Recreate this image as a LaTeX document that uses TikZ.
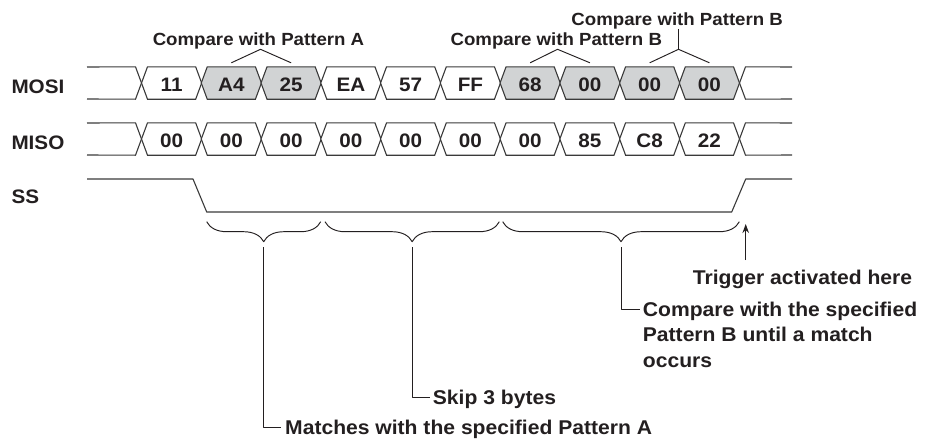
\documentclass[tikz,border=0pt]{standalone}
\usepackage{fontspec}
\setmainfont[FakeStretch=1.06]{Liberation Sans}
\usetikzlibrary{decorations.pathreplacing,arrows.meta,backgrounds}
\definecolor{ink}{HTML}{231F20}
\definecolor{wire}{HTML}{3A3A3A}
\definecolor{cellgray}{HTML}{D1D3D4}
\begin{document}
\begin{tikzpicture}[x=1pt,y=-1pt, line join=round,
  every node/.style={inner sep=0pt, text=ink},
  rowlabel/.style={anchor=base west, font=\bfseries\fontsize{19.5}{22}\selectfont},
  cell/.style={minimum width=59.76pt, minimum height=32pt, text height=17.5pt, text depth=0pt, font=\bfseries\fontsize{19.5}{22}\selectfont},
  toplabel/.style={anchor=base, font=\bfseries\fontsize{17.6}{21}\selectfont},
  note/.style={anchor=base west, text height=14pt, text depth=0pt, font=\bfseries\fontsize{19.9}{25.7}\selectfont},
  wireline/.style={draw=wire, line width=1.1pt},
  thinline/.style={draw=ink, line width=0.95pt},
  bracestyle/.style={draw=ink, line width=0.95pt, decorate, decoration={brace, mirror, amplitude=20pt}},
]
\useasboundingbox (0,0) rectangle (933,439);

% row labels
\node[rowlabel] (mosi) at (11.3,93.3) {MOSI};
\node[rowlabel] (miso) at (11.3,149.3) {MISO};
\node[rowlabel] (ss) at (11.3,203) {SS};

% MOSI cells
\foreach \t/\f [count=\i from 0] in {11/white,A4/cellgray,25/cellgray,EA/white,57/white,FF/white,68/cellgray,00/cellgray,00/cellgray,00/cellgray}{
  \node[cell] (mo\i) at ({171.58+59.76*\i},83) {\t};
  \begin{pgfonlayer}{background}
    \draw[wireline, fill=\f] (mo\i.west) -- ([xshift=6pt]mo\i.north west) -- ([xshift=-6pt]mo\i.north east) -- (mo\i.east) -- ([xshift=-6pt]mo\i.south east) -- ([xshift=6pt]mo\i.south west) -- cycle;
  \end{pgfonlayer}
}
% MISO cells
\foreach \t [count=\i from 0] in {00,00,00,00,00,00,00,85,C8,22}{
  \node[cell] (mi\i) at ({171.58+59.76*\i},139) {\t};
  \begin{pgfonlayer}{background}
    \draw[wireline, fill=white] (mi\i.west) -- ([xshift=6pt]mi\i.north west) -- ([xshift=-6pt]mi\i.north east) -- (mi\i.east) -- ([xshift=-6pt]mi\i.south east) -- ([xshift=6pt]mi\i.south west) -- cycle;
  \end{pgfonlayer}
}
% idle parts of the buses
\coordinate (moL1) at (87,67); \coordinate (moL2) at (87,99);
\coordinate (moR1) at (792,67); \coordinate (moR2) at (792,99);
\coordinate (miL1) at (87,123); \coordinate (miL2) at (87,155);
\coordinate (miR1) at (792,123); \coordinate (miR2) at (792,155);
\draw[wireline] (moL1) -- ([xshift=-6pt]mo0.north west) -- (mo0.west) -- ([xshift=-6pt]mo0.south west) -- (moL2);
\draw[wireline] (moR1) -- ([xshift=6pt]mo9.north east) -- (mo9.east) -- ([xshift=6pt]mo9.south east) -- (moR2);
\draw[wireline] (miL1) -- ([xshift=-6pt]mi0.north west) -- (mi0.west) -- ([xshift=-6pt]mi0.south west) -- (miL2);
\draw[wireline] (miR1) -- ([xshift=6pt]mi9.north east) -- (mi9.east) -- ([xshift=6pt]mi9.south east) -- (miR2);

% SS
\draw[wireline] (87,179) -- (193,179) -- (206.7,212) -- (731.7,212) -- (745.7,179) -- (792,179);

% top labels
\node[toplabel] (pa) at (258.5,45.5) {Compare with Pattern A};
\coordinate (apA) at (260.5,49.3);
\draw[thinline] ([yshift=4pt]mo1.north) -- (apA) -- ([yshift=4pt]mo2.north);
\node[toplabel] (pb1) at (556.3,45) {Compare with Pattern B};
\coordinate (apB1) at (557.5,49.3);
\draw[thinline] ([yshift=4pt]mo6.north) -- (apB1) -- ([yshift=4pt]mo7.north);
\node[toplabel] (pb2) at (677.2,25) {Compare with Pattern B};
\coordinate (apB2) at (678.5,49.3);
\draw[thinline] (apB2 |- pb2.south) -- (apB2);
\draw[thinline] ([yshift=4pt]mo8.north) -- (apB2) -- ([yshift=4pt]mo9.north);

% braces
\coordinate (b1s) at (206.7,221.7); \coordinate (b1e) at (320.7,221.7);
\coordinate (b2s) at (325,221.7);   \coordinate (b2e) at (499.3,221.7);
\coordinate (b3s) at (502.7,221.7); \coordinate (b3e) at (739.3,221.7);
\draw[bracestyle] (b1s) -- (b1e);
\draw[bracestyle] (b2s) -- (b2e);
\draw[bracestyle] (b3s) -- (b3e);
\coordinate (t1) at (263.7,247);
\coordinate (t2) at (412.2,247);
\coordinate (t3) at (621,247);

% bottom notes
\node[note] (lA) at (285,434) {Matches with the specified Pattern A};
\node[note] (lS) at (432.7,404) {Skip 3 bytes};
\node[note] (lC1) at (642.7,316) {Compare with the specified};
\node[note] (lC2) at (642.7,341.7) {Pattern B until a match};
\node[note] (lC3) at (642.7,367.3) {occurs};
\node[note, anchor=base] (lT) at (802.5,284) {Trigger activated here};
\draw[thinline] (t1) |- ([xshift=-4pt]lA.west);
\draw[thinline] (t2) |- ([xshift=-3pt]lS.west);
\draw[thinline] (t3) |- ([xshift=-3pt]lC1.west);

% trigger arrow
\coordinate (trigFoot) at (745.7,260);
\coordinate (trigTip) at (745.7,224);
\draw[thinline, -{Stealth[length=9pt,width=6.5pt]}] (trigFoot) -- (trigTip);
\end{tikzpicture}
\end{document}
